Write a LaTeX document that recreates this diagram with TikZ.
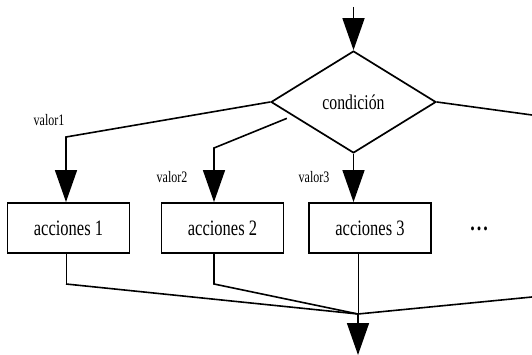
\documentclass[tikz,border=0pt]{standalone}
\usepackage{fontspec}
\setmainfont{Liberation Serif}
\newfontfamily\flowfont[FakeStretch=0.75]{Liberation Serif}
\usetikzlibrary{shapes.geometric,arrows.meta,calc}
\begin{document}
\begin{tikzpicture}[x=1pt,y=-1pt,
  line join=miter,
  flow/.style={line width=1.6pt},
  thin flow/.style={line width=0.9pt},
  bigarrow/.style={-{Triangle[length=32pt,width=22pt]}},
  decision/.style={diamond,draw,line width=1.7pt,inner sep=0pt,
    minimum width=165pt,minimum height=102pt,
    font=\flowfont\fontsize{21}{23}\selectfont},
  actionbox/.style={rectangle,draw,line width=1.9pt,inner sep=0pt,
    minimum width=122pt,minimum height=50pt,
    font=\flowfont\fontsize{22}{24}\selectfont},
  branchlabel/.style={font=\flowfont\fontsize{16}{18}\selectfont,inner sep=0pt}]

\useasboundingbox (0,0) rectangle (532,355);

% decision and the three action blocks
\node[decision] (cond) at (353.5,102) {condición};
\node[actionbox] (b1) at (68.5,228) {acciones 1};
\node[actionbox] (b2) at (222.5,228) {acciones 2};
\node[actionbox] (b3) at (370,228) {acciones 3};
\node[font=\flowfont\bfseries\fontsize{24}{26}\selectfont,inner sep=0pt] (more) at (479,229) {.\kern2pt.\kern2pt.};

% branch labels
\node[branchlabel] (l1) at (49,120) {valor1};
\node[branchlabel] (l2) at (172,177) {valor2};
\node[branchlabel] (l3) at (314,177) {valor3};

% helper points for the bends
\coordinate (entry) at (353.5,7);
\coordinate (k1) at (66,137);
\coordinate (k2) at (214,148);
\coordinate (s2) at ($(cond.west)!0.2!(cond.south)+(0,6)$);
\coordinate (rightout) at (532,115);
\coordinate (j1) at (66,284);
\coordinate (j2) at (214,284);
\coordinate (merge) at (358,314);
\coordinate (rightin) at (532,297);
\coordinate (exit) at (358,355);

% entry arrow
\draw[flow,bigarrow] (entry) -- (cond.north);

% branches out of the decision
\draw[flow,bigarrow] (cond.west) -- (k1) -- (k1 |- b1.north);
\draw[flow,bigarrow] (s2) -- (k2) -- (k2 |- b2.north);
\draw[flow,bigarrow] (cond.south) -- (cond.south |- b3.north);
\draw[flow] (cond.east) -- (rightout);

% joining paths
\draw[thin flow] (j1 |- b1.south) -- (j1);
\draw[flow] (j1) -- (merge);
\draw[flow] (j2 |- b2.south) -- (j2) -- (merge);
\draw[thin flow] (merge |- b3.south) -- (merge);
\draw[flow] (rightin) -- (merge);
\draw[flow,bigarrow] (merge) -- (exit);
\end{tikzpicture}
\end{document}
